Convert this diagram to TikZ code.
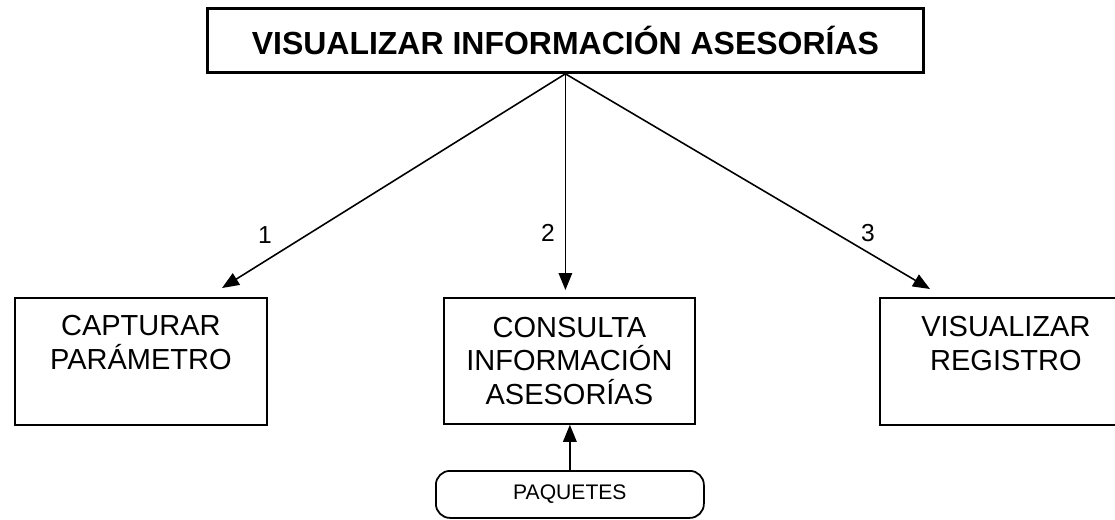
\documentclass[tikz,border=0pt]{standalone}
\usepackage{fontspec}
\setmainfont{Liberation Sans}
\usetikzlibrary{arrows.meta}
\begin{document}
\begin{tikzpicture}[
        box/.style={draw, line width=1pt, minimum width=5.04cm,
                    minimum height=2.54cm, anchor=north west},
        txt/.style={align=center, font=\fontsize{16.5}{19.2}\selectfont,
                    inner sep=0pt},
        num/.style={font=\fontsize{14}{16}\selectfont, inner sep=0pt},
        link/.style={line width=0.9pt,
                     -{Triangle[length=0.34cm, width=0.27cm]}},
    ]
        \clip (0,0) rectangle (22.30,-10.38);
        \fill[white] (0,0) rectangle (22.30,-10.38);

        \node[draw, line width=1.6pt, minimum width=14.32cm,
              minimum height=1.28cm, anchor=north west,
              font=\bfseries\fontsize{18.2}{20}\selectfont]
            (main) at (4.12,-0.14) {VISUALIZAR INFORMACIÓN ASESORÍAS};

        \node[box] (capturar) at (0.28,-5.94) {};
        \node[txt] at ([yshift=-0.91cm]capturar.north) {CAPTURAR\\PARÁMETRO};

        \node[box, minimum width=5.02cm, minimum height=2.52cm, txt,
              line width=1pt]
            (consulta) at (8.86,-5.94) {CONSULTA\\INFORMACIÓN\\ASESORÍAS};

        \node[box] (registro) at (17.58,-5.94) {};
        \node[txt] at ([yshift=-0.93cm]registro.north) {VISUALIZAR\\REGISTRO};

        \node[draw, line width=1pt, rounded corners=8pt, minimum width=5.36cm,
              minimum height=0.94cm, anchor=north west,
              font=\fontsize{12}{14}\selectfont]
            (paquetes) at (8.70,-9.40) {PAQUETES};

        % ends of the slanted arrows
        \coordinate (tipA) at (4.44,-5.76);
        \coordinate (tipC) at (18.60,-5.78);

        \draw[link] (main.south) -- (tipA);
        \draw[link, shorten >=0.14cm] (main.south) -- (main.south |- consulta.north);
        \draw[link] (main.south) -- (tipC);
        \draw[link] (paquetes.north) -- (paquetes.north |- consulta.south);

        \node[num] (n1) at (5.30,-4.70) {1};
        \node[num] (n2) at (10.96,-4.66) {2};
        \node[num] (n3) at (17.36,-4.66) {3};
    \end{tikzpicture}
\end{document}
